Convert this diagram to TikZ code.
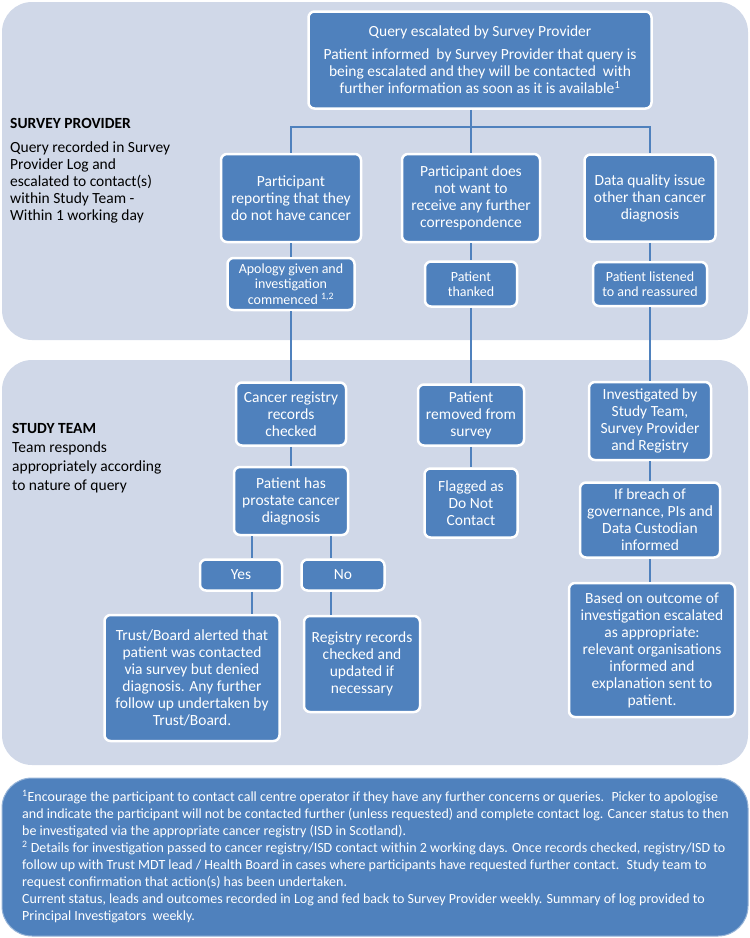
\documentclass[tikz,border=0pt]{standalone}
\usepackage{fontspec}
\setmainfont{Carlito}
\usepackage{tikz}
\definecolor{boxblue}{RGB}{79,129,189}
\definecolor{panelgrey}{RGB}{208,216,232}
\tikzstyle{bx} = [draw=white, line width=2.5pt, fill=boxblue, rounded corners=6pt, text=white, align=center, inner sep=2pt, font=\fontsize{15.5}{17}\selectfont]
\tikzstyle{sm} = [font=\fontsize{14}{15.5}\selectfont]
\tikzstyle{ln} = [draw=boxblue, line width=2.5pt]
\tikzstyle{panel} = [fill=panelgrey, rounded corners=30pt]
\tikzstyle{lbl} = [anchor=north west, align=left, inner sep=0pt, font=\fontsize{15.5}{17}\selectfont]

\begin{document}
\begin{tikzpicture}[x=1pt,y=-1pt]
			\useasboundingbox (0,0) rectangle (750,938);
			\fill[panel] (2,2) rectangle (748,340);
			\fill[panel] (2,360) rectangle (748,765);
			\draw[fill=boxblue, draw=boxblue!60!white, line width=1pt, rounded corners=30pt] (2,778) rectangle (748,936);
			% survey provider
			\node[bx, minimum width=343pt, minimum height=97pt] (esc) at (480,60) {Query escalated by Survey Provider\\[6pt] Patient informed \ by Survey Provider that query is\\ being escalated and they will be contacted \ with\\ further information as soon as it is available\textsuperscript{1}};
			\node[bx, minimum width=140pt, minimum height=88pt] (rep) at (291,198) {Participant\\ reporting that they\\ do not have cancer};
			\node[bx, minimum width=138pt, minimum height=88pt] (nocor) at (471,198) {Participant does\\ not want to\\ receive any further\\ correspondence};
			\node[bx, minimum width=131pt, minimum height=87pt] (dq) at (650,198) {Data quality issue\\ other than cancer\\ diagnosis};
			\node[bx, sm, minimum width=127pt, minimum height=52pt] (apol) at (291,284) {Apology given and\\ investigation\\ commenced \textsuperscript{1,2}};
			\node[bx, sm, minimum width=92pt, minimum height=45pt] (thank) at (471,284) {Patient\\ thanked};
			\node[bx, sm, minimum width=114pt, minimum height=44pt] (reass) at (650,284) {Patient listened\\ to and reassured};
			% study team
			\node[bx, minimum width=110pt, minimum height=63pt] (reg) at (291,414) {Cancer registry\\ records\\ checked};
			\node[bx, minimum width=114pt, minimum height=68pt] (prost) at (291,501) {Patient has\\ prostate cancer\\ diagnosis};
			\node[bx, minimum width=82pt, minimum height=31pt] (yes) at (241,575) {Yes};
			\node[bx, minimum width=83pt, minimum height=31pt] (no) at (343,575) {No};
			\node[bx, minimum width=175pt, minimum height=126pt] (trust) at (192,678) {Trust/Board alerted that\\ patient was contacted\\ via survey but denied\\ diagnosis. Any further\\ follow up undertaken by\\ Trust/Board.};
			\node[bx, minimum width=116pt, minimum height=96pt] (upd) at (362,664) {Registry records\\ checked and\\ updated if\\ necessary};
			\node[bx, minimum width=106pt, minimum height=61pt] (remov) at (471,415) {Patient\\ removed from\\ survey};
			\node[bx, minimum width=93pt, minimum height=69pt] (flag) at (471,503) {Flagged as\\ Do Not\\ Contact};
			\node[bx, minimum width=122pt, minimum height=78pt] (inv) at (650,421) {Investigated by\\ Study Team,\\ Survey Provider\\ and Registry};
			\node[bx, minimum width=140pt, minimum height=75pt] (breach) at (650,520) {If breach of\\ governance, PIs and\\ Data Custodian\\ informed};
			\node[bx, minimum width=166pt, minimum height=134pt] (based) at (652,650) {Based on outcome of\\ investigation escalated\\ as appropriate:\\ relevant organisations\\ informed and\\ explanation sent to\\ patient.};
			% side labels
			\node[lbl] (sp) at (10,118) {\textbf{SURVEY PROVIDER}\\[7pt] Query recorded in Survey\\ Provider Log and\\ escalated to contact(s)\\ within Study Team -\\ Within 1 working day};
			\node[lbl, font=\fontsize{15.5}{19}\selectfont] (st) at (12,423) {\textbf{STUDY TEAM}\\ Team responds\\ appropriately according\\ to nature of query};
			% footnotes
			\node[lbl, text=white, font=\fontsize{14}{17}\selectfont] (notes) at (22,790) {\textsuperscript{1}Encourage the participant to contact call centre operator if they have any further concerns or queries. \ Picker to apologise\\ and indicate the participant will not be contacted further (unless requested) and complete contact log. Cancer status to then\\ be investigated via the appropriate cancer registry (ISD in Scotland).\\ \textsuperscript{2} Details for investigation passed to cancer registry/ISD contact within 2 working days. Once records checked, registry/ISD to\\ follow up with Trust MDT lead / Health Board in cases where participants have requested further contact. \ Study team to\\ request confirmation that action(s) has been undertaken.\\ Current status, leads and outcomes recorded in Log and fed back to Survey Provider weekly. Summary of log provided to\\ Principal Investigators \ weekly.};
			% connectors
			\coordinate (bus) at (471,127);
			\draw[ln] (esc.south -| bus) -- (nocor.north);
			\draw[ln] (rep.north) |- (bus) -| (dq.north);
			\draw[ln] (rep.south) -- (apol.north);
			\draw[ln] (apol.south) -- (reg.north);
			\draw[ln] (reg.south) -- (prost.north);
			\coordinate (yl) at ([xshift=-39pt]prost.south);
			\coordinate (nl) at ([xshift=40pt]prost.south);
			\draw[ln] (yl) -- (yl |- yes.north);
			\draw[ln] (yl |- yes.south) -- (yl |- trust.north);
			\draw[ln] (nl) -- (nl |- no.north);
			\draw[ln] (nl |- no.south) -- (nl |- upd.north);
			\draw[ln] (nocor.south) -- (thank.north);
			\draw[ln] (thank.south) -- (remov.north);
			\draw[ln] (remov.south) -- (flag.north);
			\draw[ln] (dq.south) -- (reass.north);
			\draw[ln] (reass.south) -- (inv.north);
			\draw[ln] (inv.south) -- (breach.north);
			\draw[ln] (breach.south) -- (breach.south |- based.north);
		\end{tikzpicture}
\end{document}
